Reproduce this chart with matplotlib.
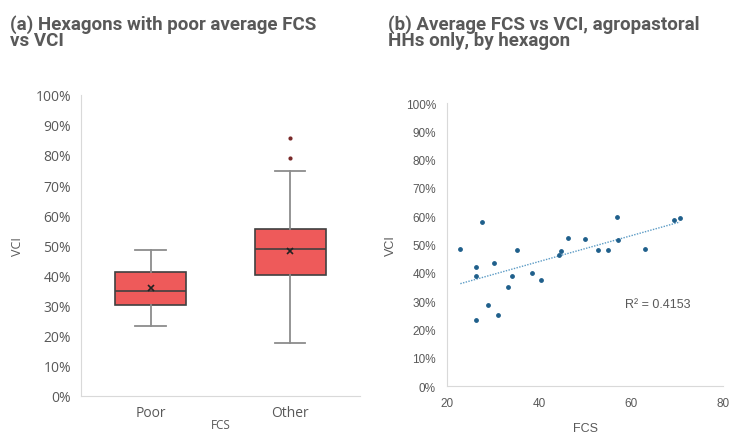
"""
Two-panel figure: (a) VCI boxplot by FCS group, (b) FCS vs VCI scatter
with a linear trendline, agropastoral households only.
"""

import matplotlib.pyplot as plt
import numpy as np
from matplotlib.ticker import PercentFormatter

# (a) box summary per FCS group, VCI as fraction
groups = ["Poor", "Other"]
whislo = [0.233, 0.176]
q1 = [0.302, 0.400]
med = [0.348, 0.486]
mean = [0.358, 0.480]
q3 = [0.412, 0.555]
whishi = [0.484, 0.745]
fliers = [[], [0.857, 0.791]]

# (b) hexagon averages
fcs = [22.9, 26.3, 26.3, 26.3, 27.5, 28.9, 30.2, 31.0, 33.2, 34.2, 35.3, 38.4,
       40.5, 44.3, 44.8, 46.4, 50.1, 52.9, 54.9, 56.9, 57.2, 63.1, 69.3, 70.6]
vci = [0.483, 0.421, 0.388, 0.233, 0.578, 0.285, 0.433, 0.252, 0.351, 0.388,
       0.481, 0.399, 0.373, 0.462, 0.478, 0.524, 0.518, 0.482, 0.479, 0.598,
       0.517, 0.485, 0.587, 0.594]
r2_label = "R² = 0.4153"

TITLE_GREY = "#595959"
TICK_GREY = "#595959"
SPINE_GREY = "#d9d9d9"

fig = plt.figure(figsize=(7.31, 4.35), dpi=100)

# ---------------- (a) boxplot ----------------
ax1 = fig.add_axes([0.1104, 0.088, 0.382, 0.692])
stats = [
    dict(label=g, whislo=lo, q1=a, med=m, mean=mn, q3=b, whishi=hi, fliers=f)
    for g, lo, a, m, mn, b, hi, f in zip(groups, whislo, q1, med, mean, q3, whishi, fliers)
]
ax1.bxp(
    stats, positions=range(len(groups)), widths=0.51, patch_artist=True,
    showmeans=True,
    boxprops=dict(facecolor="#ee5a5a", edgecolor="#404040", linewidth=1.2),
    medianprops=dict(color="#404040", linewidth=1.2),
    whiskerprops=dict(color="#8c8c8c", linewidth=1.3),
    capprops=dict(color="#8c8c8c", linewidth=1.3),
    capwidths=0.22,
    meanprops=dict(marker="x", markeredgecolor="#222222", markersize=4.5, markeredgewidth=1.2),
    flierprops=dict(marker="o", markerfacecolor="#7a2a2a", markeredgecolor="none", markersize=3),
)
ax1.set_xlim(-0.5, 1.5)
ax1.set_ylim(0, 1)
ax1.set_yticks(np.arange(0, 1.01, 0.1))
ax1.yaxis.set_major_formatter(PercentFormatter(1.0, decimals=0))
ax1.set_xticks(range(len(groups)), groups)
ax1.tick_params(length=0, labelsize=10, labelcolor=TICK_GREY, pad=7)
for lbl in ax1.get_xticklabels() + ax1.get_yticklabels():
    lbl.set_fontfamily("Open Sans")
for side in ("top", "right"):
    ax1.spines[side].set_visible(False)
for side in ("left", "bottom"):
    ax1.spines[side].set_color(SPINE_GREY)
ax1.set_ylabel("VCI", fontsize=9, color=TICK_GREY, family="Open Sans", labelpad=8)
# sits right at the bottom edge, as in the source figure
ax1.set_xlabel("FCS", fontsize=8.5, color=TICK_GREY, family="Open Sans", labelpad=-2)

# ---------------- (b) scatter + trendline ----------------
ax2 = fig.add_axes([0.6115, 0.1103, 0.3776, 0.6506])
ax2.scatter(fcs, vci, s=6, color="#1f5f8b", zorder=3)
slope, intercept = np.polyfit(fcs, vci, 1)
xs = np.array([min(fcs), max(fcs)])
ax2.plot(xs, slope * xs + intercept, linestyle=(0, (1, 1)), color="#5b9bc5", linewidth=1.0)
ax2.text(58.7, 0.29, r2_label, fontsize=9, color=TICK_GREY, family="Liberation Sans",
         va="center", ha="left")
ax2.set_xlim(20, 80)
ax2.set_ylim(0, 1)
ax2.set_xticks([20, 40, 60, 80])
ax2.set_yticks(np.arange(0, 1.01, 0.1))
ax2.yaxis.set_major_formatter(PercentFormatter(1.0, decimals=0))
ax2.tick_params(length=0, labelsize=8.5, labelcolor=TICK_GREY, pad=8)
for lbl in ax2.get_xticklabels() + ax2.get_yticklabels():
    lbl.set_fontfamily("Liberation Sans")
for side in ("top", "right"):
    ax2.spines[side].set_visible(False)
for side in ("left", "bottom"):
    ax2.spines[side].set_color(SPINE_GREY)
ax2.set_ylabel("VCI", fontsize=9, color=TICK_GREY, family="Liberation Sans", labelpad=6)
ax2.set_xlabel("FCS", fontsize=9, color=TICK_GREY, family="Liberation Sans", labelpad=9)

# titles
fig.text(10 / 731, 1 - 15 / 435, "(a) Hexagons with poor average FCS\nvs VCI",
         fontsize=13.5, fontweight="bold", family="Roboto", color=TITLE_GREY,
         va="top", ha="left", linespacing=0.88)
fig.text(388 / 731, 1 - 15 / 435, "(b) Average FCS vs VCI, agropastoral\nHHs only, by hexagon",
         fontsize=13.5, fontweight="bold", family="Roboto", color=TITLE_GREY,
         va="top", ha="left", linespacing=0.88)

fig.savefig("out.png", dpi=100)
